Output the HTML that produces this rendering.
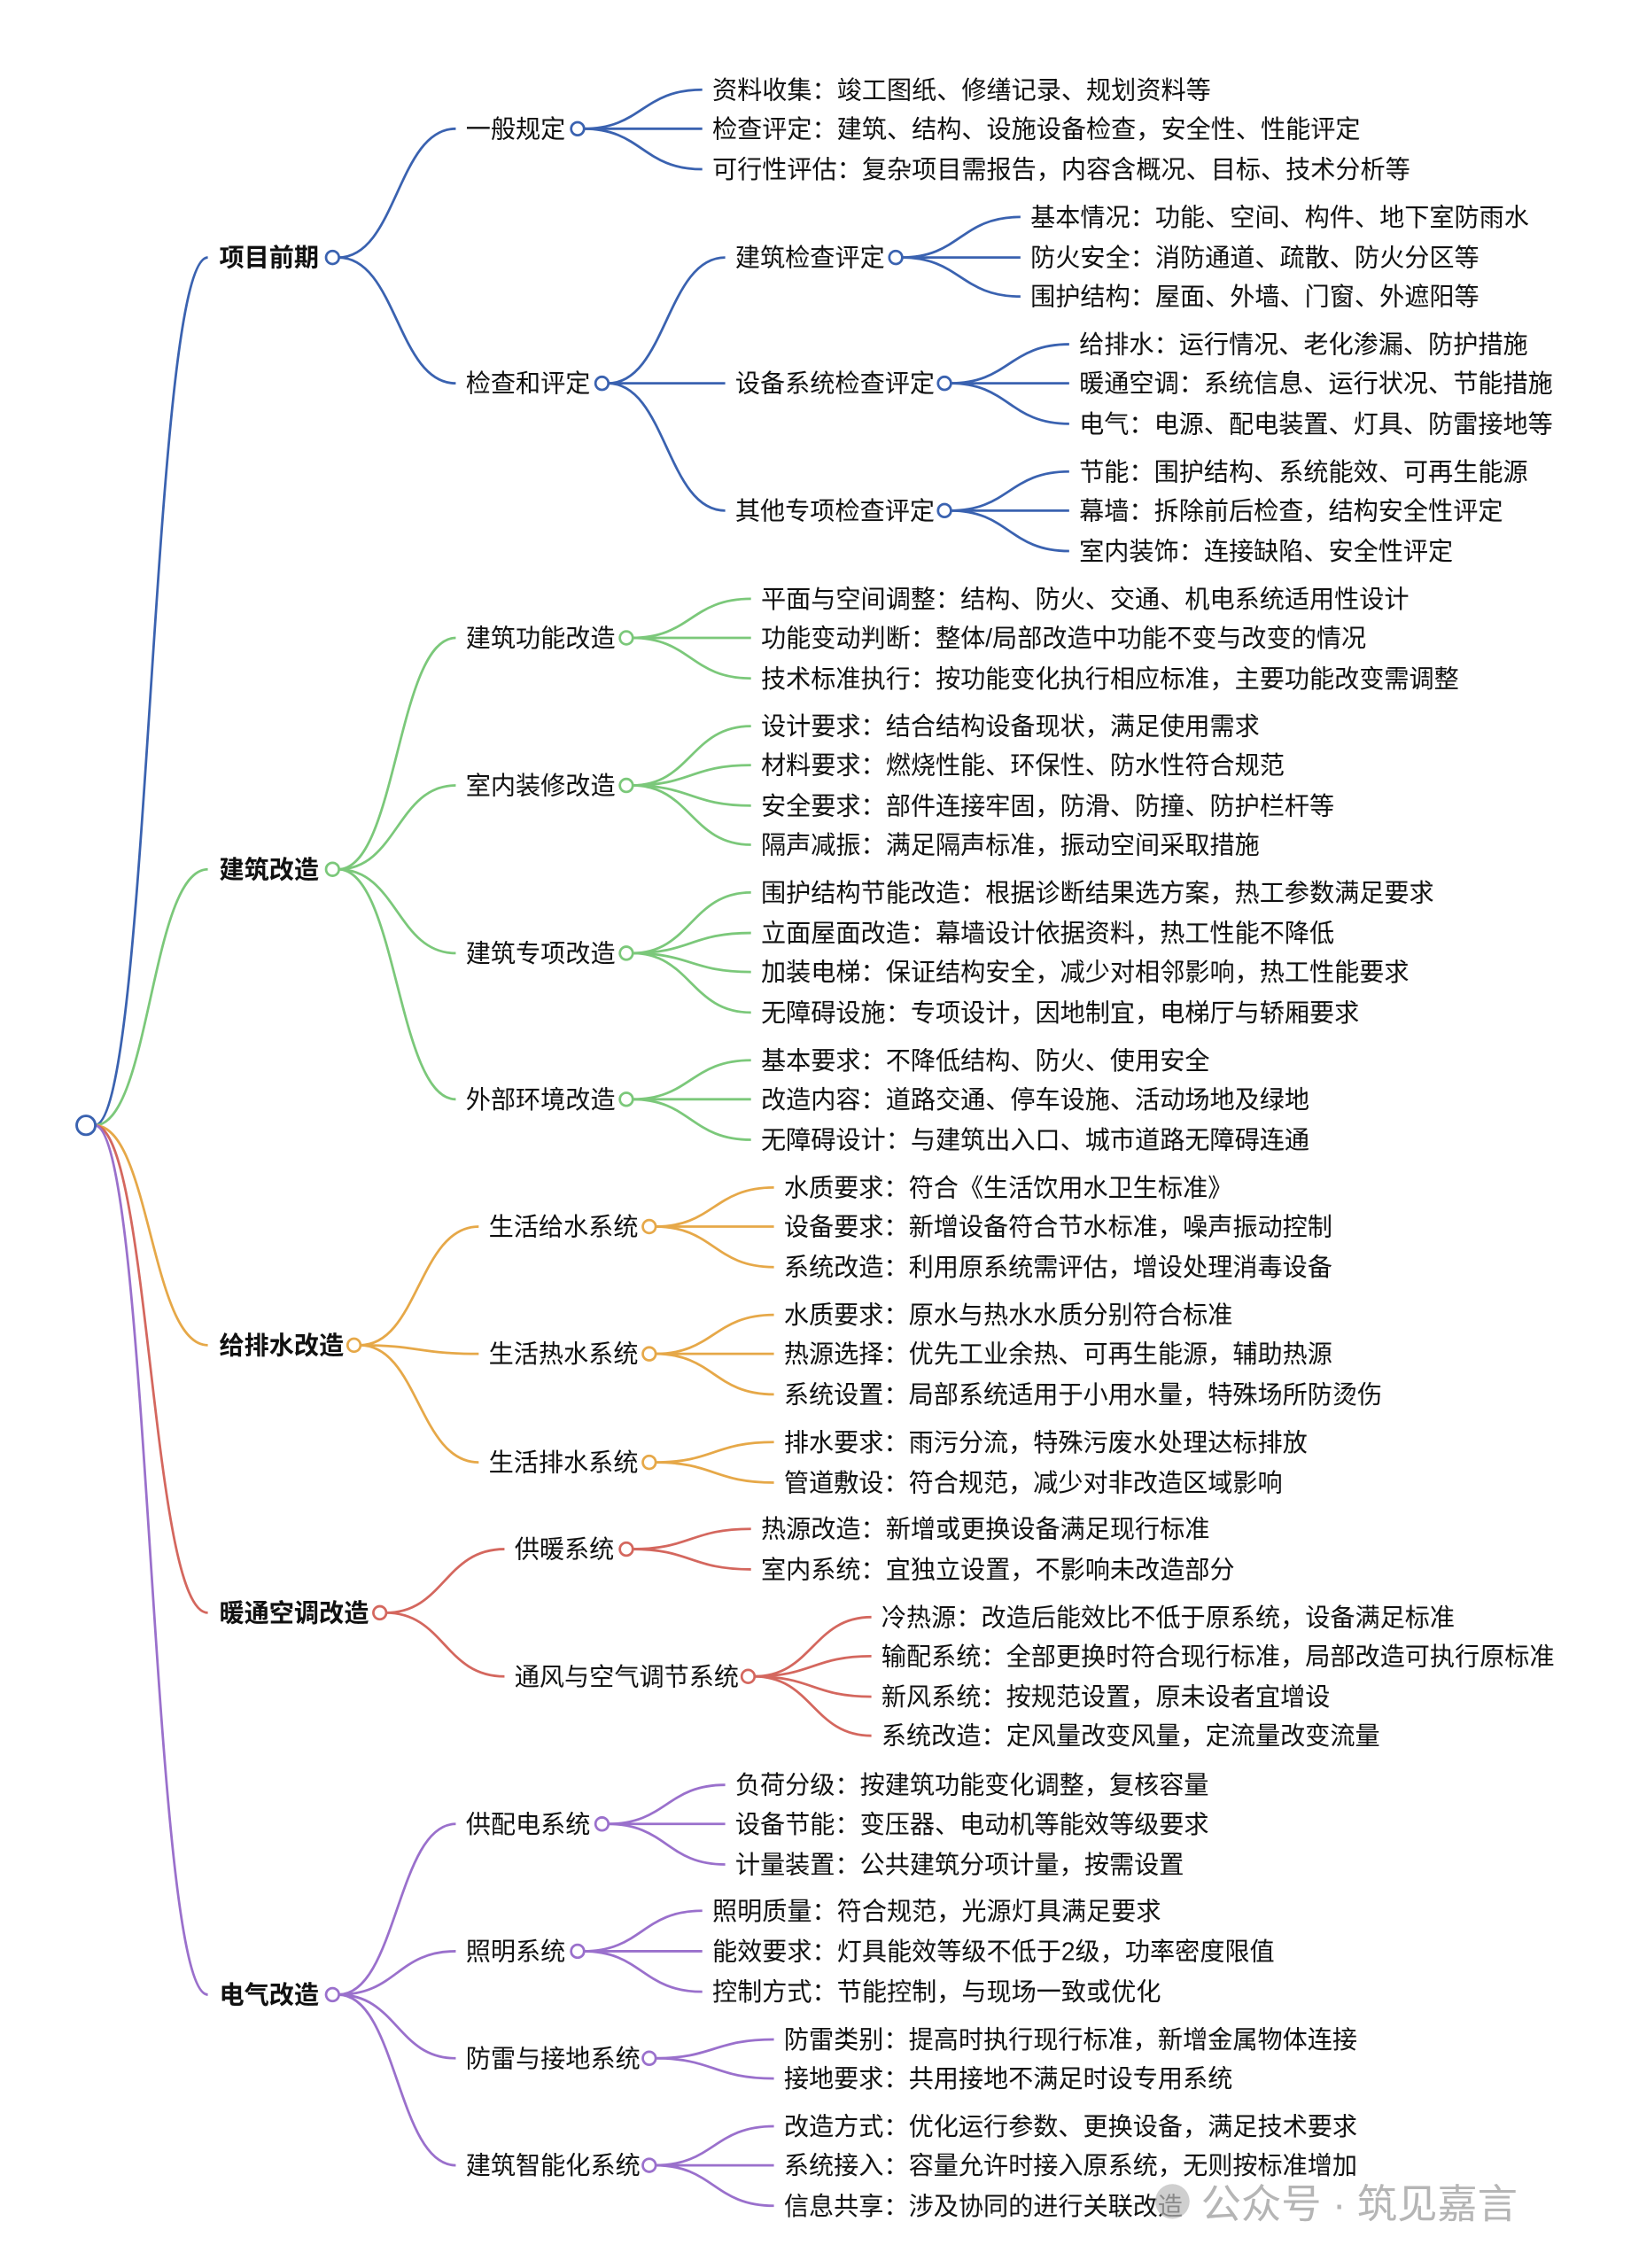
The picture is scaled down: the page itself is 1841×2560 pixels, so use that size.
<!DOCTYPE html>
<html><head><meta charset="utf-8"><style>
html,body{margin:0;padding:0;background:#fff}
svg{display:block}
text{font-family:"Liberation Sans","Noto Sans CJK SC",sans-serif;font-size:17.4px;fill:#111;dominant-baseline:central}
.b{font-weight:bold}
path{fill:none;stroke-width:1.7}
circle{fill:#fff;stroke-width:1.7}
.bl path,.bl circle{stroke:#3a62b0}
.gr path,.gr circle{stroke:#7bc87a}
.or path,.or circle{stroke:#e6a848}
.rd path,.rd circle{stroke:#d4675e}
.pu path,.pu circle{stroke:#9a70cc}
</style></head><body>
<svg width="1841" height="2560" viewBox="0 0 1138 1568" preserveAspectRatio="none" xmlns="http://www.w3.org/2000/svg">
<g class="bl"><path d="M66 778 C105 778 105 178 145 178"/></g>
<g class="gr"><path d="M66 778 C105 778 105 601 145 601"/></g>
<g class="or"><path d="M66 778 C105 778 105 930 145 930"/></g>
<g class="rd"><path d="M66 778 C105 778 105 1115 145 1115"/></g>
<g class="pu"><path d="M66 778 C105 778 105 1379 145 1379"/></g>

<g class="bl">
<path d="M236 178 C277 178 277 89 318 89"/>
<path d="M236 178 C277 178 277 265 318 265"/>
<path d="M407 89 C448 89 448 62 490 62"/>
<path d="M407 89 L490 89"/>
<path d="M407 89 C448 89 448 117 490 117"/>
<path d="M424 265 C465 265 465 178 506 178"/>
<path d="M424 265 L506 265"/>
<path d="M424 265 C465 265 465 353 506 353"/>
<path d="M629 178 C670 178 670 150 712 150"/>
<path d="M629 178 L712 178"/>
<path d="M629 178 C670 178 670 205 712 205"/>
<path d="M663 265 C704 265 704 238 746 238"/>
<path d="M663 265 L746 265"/>
<path d="M663 265 C704 265 704 293 746 293"/>
<path d="M663 353 C704 353 704 326 746 326"/>
<path d="M663 353 L746 353"/>
<path d="M663 353 C704 353 704 381 746 381"/>
<circle cx="232" cy="178" r="4.5"/><circle cx="403" cy="89" r="4.5"/><circle cx="420" cy="265" r="4.5"/>
<circle cx="625" cy="178" r="4.5"/><circle cx="659" cy="265" r="4.5"/><circle cx="659" cy="353" r="4.5"/>
</g>
<text class="b" x="153" y="178">项目前期</text>
<text x="325" y="89">一般规定</text>
<text x="325" y="265">检查和评定</text>
<text x="497" y="62">资料收集：竣工图纸、修缮记录、规划资料等</text>
<text x="497" y="89">检查评定：建筑、结构、设施设备检查，安全性、性能评定</text>
<text x="497" y="117">可行性评估：复杂项目需报告，内容含概况、目标、技术分析等</text>
<text x="513" y="178">建筑检查评定</text>
<text x="513" y="265">设备系统检查评定</text>
<text x="513" y="353">其他专项检查评定</text>
<text x="719" y="150">基本情况：功能、空间、构件、地下室防雨水</text>
<text x="719" y="178">防火安全：消防通道、疏散、防火分区等</text>
<text x="719" y="205">围护结构：屋面、外墙、门窗、外遮阳等</text>
<text x="753" y="238">给排水：运行情况、老化渗漏、防护措施</text>
<text x="753" y="265">暖通空调：系统信息、运行状况、节能措施</text>
<text x="753" y="293">电气：电源、配电装置、灯具、防雷接地等</text>
<text x="753" y="326">节能：围护结构、系统能效、可再生能源</text>
<text x="753" y="353">幕墙：拆除前后检查，结构安全性评定</text>
<text x="753" y="381">室内装饰：连接缺陷、安全性评定</text>

<g class="gr">
<path d="M236 601 C277 601 277 441 318 441"/>
<path d="M236 601 C277 601 277 543 318 543"/>
<path d="M236 601 C277 601 277 659 318 659"/>
<path d="M236 601 C277 601 277 760 318 760"/>
<path d="M441 441 C482 441 482 414 524 414"/><path d="M441 441 L524 441"/><path d="M441 441 C482 441 482 469 524 469"/>
<path d="M441 543 C482 543 482 502 524 502"/><path d="M441 543 C482 543 482 529 524 529"/><path d="M441 543 C482 543 482 557 524 557"/><path d="M441 543 C482 543 482 584 524 584"/>
<path d="M441 659 C482 659 482 617 524 617"/><path d="M441 659 C482 659 482 645 524 645"/><path d="M441 659 C482 659 482 672 524 672"/><path d="M441 659 C482 659 482 700 524 700"/>
<path d="M441 760 C482 760 482 733 524 733"/><path d="M441 760 L524 760"/><path d="M441 760 C482 760 482 788 524 788"/>
<circle cx="232" cy="601" r="4.5"/><circle cx="437" cy="441" r="4.5"/><circle cx="437" cy="543" r="4.5"/><circle cx="437" cy="659" r="4.5"/><circle cx="437" cy="760" r="4.5"/>
</g>
<text class="b" x="153" y="601">建筑改造</text>
<text x="325" y="441">建筑功能改造</text>
<text x="325" y="543">室内装修改造</text>
<text x="325" y="659">建筑专项改造</text>
<text x="325" y="760">外部环境改造</text>
<text x="531" y="414">平面与空间调整：结构、防火、交通、机电系统适用性设计</text>
<text x="531" y="441">功能变动判断：整体/局部改造中功能不变与改变的情况</text>
<text x="531" y="469">技术标准执行：按功能变化执行相应标准，主要功能改变需调整</text>
<text x="531" y="502">设计要求：结合结构设备现状，满足使用需求</text>
<text x="531" y="529">材料要求：燃烧性能、环保性、防水性符合规范</text>
<text x="531" y="557">安全要求：部件连接牢固，防滑、防撞、防护栏杆等</text>
<text x="531" y="584">隔声减振：满足隔声标准，振动空间采取措施</text>
<text x="531" y="617">围护结构节能改造：根据诊断结果选方案，热工参数满足要求</text>
<text x="531" y="645">立面屋面改造：幕墙设计依据资料，热工性能不降低</text>
<text x="531" y="672">加装电梯：保证结构安全，减少对相邻影响，热工性能要求</text>
<text x="531" y="700">无障碍设施：专项设计，因地制宜，电梯厅与轿厢要求</text>
<text x="531" y="733">基本要求：不降低结构、防火、使用安全</text>
<text x="531" y="760">改造内容：道路交通、停车设施、活动场地及绿地</text>
<text x="531" y="788">无障碍设计：与建筑出入口、城市道路无障碍连通</text>

<g class="or">
<path d="M251 930 C292 930 292 848 334 848"/>
<path d="M251 930 C292 930 292 936 334 936"/>
<path d="M251 930 C292 930 292 1011 334 1011"/>
<path d="M457 848 C498 848 498 821 540 821"/><path d="M457 848 L540 848"/><path d="M457 848 C498 848 498 876 540 876"/>
<path d="M457 936 C498 936 498 909 540 909"/><path d="M457 936 L540 936"/><path d="M457 936 C498 936 498 964 540 964"/>
<path d="M457 1011 C498 1011 498 997 540 997"/><path d="M457 1011 C498 1011 498 1025 540 1025"/>
<circle cx="247" cy="930" r="4.5"/><circle cx="453" cy="848" r="4.5"/><circle cx="453" cy="936" r="4.5"/><circle cx="453" cy="1011" r="4.5"/>
</g>
<text class="b" x="153" y="930">给排水改造</text>
<text x="341" y="848">生活给水系统</text>
<text x="341" y="936">生活热水系统</text>
<text x="341" y="1011">生活排水系统</text>
<text x="547" y="821">水质要求：符合《生活饮用水卫生标准》</text>
<text x="547" y="848">设备要求：新增设备符合节水标准，噪声振动控制</text>
<text x="547" y="876">系统改造：利用原系统需评估，增设处理消毒设备</text>
<text x="547" y="909">水质要求：原水与热水水质分别符合标准</text>
<text x="547" y="936">热源选择：优先工业余热、可再生能源，辅助热源</text>
<text x="547" y="964">系统设置：局部系统适用于小用水量，特殊场所防烫伤</text>
<text x="547" y="997">排水要求：雨污分流，特殊污废水处理达标排放</text>
<text x="547" y="1025">管道敷设：符合规范，减少对非改造区域影响</text>

<g class="rd">
<path d="M269 1115 C310 1115 310 1071 352 1071"/>
<path d="M269 1115 C310 1115 310 1159 352 1159"/>
<path d="M441 1071 C482 1071 482 1057 524 1057"/><path d="M441 1071 C482 1071 482 1085 524 1085"/>
<path d="M526 1159 C567 1159 567 1118 608 1118"/><path d="M526 1159 C567 1159 567 1145 608 1145"/><path d="M526 1159 C567 1159 567 1173 608 1173"/><path d="M526 1159 C567 1159 567 1200 608 1200"/>
<circle cx="265" cy="1115" r="4.5"/><circle cx="437" cy="1071" r="4.5"/><circle cx="522" cy="1159" r="4.5"/>
</g>
<text class="b" x="153" y="1115">暖通空调改造</text>
<text x="359" y="1071">供暖系统</text>
<text x="359" y="1159">通风与空气调节系统</text>
<text x="531" y="1057">热源改造：新增或更换设备满足现行标准</text>
<text x="531" y="1085">室内系统：宜独立设置，不影响未改造部分</text>
<text x="615" y="1118">冷热源：改造后能效比不低于原系统，设备满足标准</text>
<text x="615" y="1145">输配系统：全部更换时符合现行标准，局部改造可执行原标准</text>
<text x="615" y="1173">新风系统：按规范设置，原未设者宜增设</text>
<text x="615" y="1200">系统改造：定风量改变风量，定流量改变流量</text>

<g class="pu">
<path d="M236 1379 C277 1379 277 1261 318 1261"/>
<path d="M236 1379 C277 1379 277 1349 318 1349"/>
<path d="M236 1379 C277 1379 277 1423 318 1423"/>
<path d="M236 1379 C277 1379 277 1497 318 1497"/>
<path d="M424 1261 C465 1261 465 1234 506 1234"/><path d="M424 1261 L506 1261"/><path d="M424 1261 C465 1261 465 1289 506 1289"/>
<path d="M407 1349 C448 1349 448 1321 490 1321"/><path d="M407 1349 L490 1349"/><path d="M407 1349 C448 1349 448 1377 490 1377"/>
<path d="M457 1423 C498 1423 498 1410 540 1410"/><path d="M457 1423 C498 1423 498 1437 540 1437"/>
<path d="M457 1497 C498 1497 498 1470 540 1470"/><path d="M457 1497 L540 1497"/><path d="M457 1497 C498 1497 498 1525 540 1525"/>
<circle cx="232" cy="1379" r="4.5"/><circle cx="420" cy="1261" r="4.5"/><circle cx="403" cy="1349" r="4.5"/><circle cx="453" cy="1423" r="4.5"/><circle cx="453" cy="1497" r="4.5"/>
</g>
<text class="b" x="153" y="1379">电气改造</text>
<text x="325" y="1261">供配电系统</text>
<text x="325" y="1349">照明系统</text>
<text x="325" y="1423">防雷与接地系统</text>
<text x="325" y="1497">建筑智能化系统</text>
<text x="513" y="1234">负荷分级：按建筑功能变化调整，复核容量</text>
<text x="513" y="1261">设备节能：变压器、电动机等能效等级要求</text>
<text x="513" y="1289">计量装置：公共建筑分项计量，按需设置</text>
<text x="497" y="1321">照明质量：符合规范，光源灯具满足要求</text>
<text x="497" y="1349">能效要求：灯具能效等级不低于2级，功率密度限值</text>
<text x="497" y="1377">控制方式：节能控制，与现场一致或优化</text>
<text x="547" y="1410">防雷类别：提高时执行现行标准，新增金属物体连接</text>
<text x="547" y="1437">接地要求：共用接地不满足时设专用系统</text>
<text x="547" y="1470">改造方式：优化运行参数、更换设备，满足技术要求</text>
<text x="547" y="1497">系统接入：容量允许时接入原系统，无则按标准增加</text>
<text x="547" y="1525">信息共享：涉及协同的进行关联改造</text>

<circle cx="60" cy="778" r="6.5" style="stroke:#3a62b0;stroke-width:1.8"/>

<circle cx="818" cy="1522" r="12" style="fill:#bbb;stroke:none;opacity:.7"/>
<text x="838" y="1524" style="font-size:28px;fill:#b5b5b5">公众号 · 筑见嘉言</text>
</svg>
</body></html>
